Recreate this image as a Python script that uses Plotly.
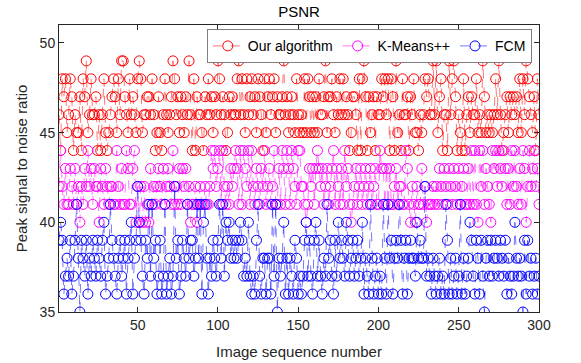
import plotly.graph_objects as go

image_index = list(range(1, 301))

our_algorithm = [
    46, 44, 48, 47, 48, 45, 46, 48, 47, 44, 46, 45, 45, 47, 44, 48, 47, 49, 45, 46,
    48, 46, 46, 47, 44, 46, 44, 46, 48, 45, 44, 45, 46, 47, 48, 47, 45, 48, 46, 49,
    49, 47, 46, 45, 48, 46, 47, 46, 45, 48,
    49, 48, 45, 46, 46, 47, 47, 46, 48, 46, 44, 45, 47, 45, 44, 46, 48, 46, 45, 46,
    47, 49, 48, 46, 47, 45, 47, 46, 45, 47, 46, 49, 46, 44, 48, 44, 47, 46, 46, 45,
    44, 47, 46, 48, 46, 47, 45, 47, 46, 49,
    48, 46, 47, 46, 44, 45, 47, 46, 47, 46, 46, 48, 49, 46, 48, 46, 45, 48, 46, 47,
    48, 46, 47, 45, 48, 47, 46, 44, 48, 45, 47, 48, 46, 47, 48, 45, 47, 46, 46, 47,
    49, 46, 47, 45, 46, 47, 46, 45, 48, 46,
    45, 46, 45, 48, 45, 48, 47, 45, 47, 45, 47, 45, 48, 46, 46, 47, 49, 45, 47, 47,
    48, 46, 45, 47, 46, 48, 46, 48, 46, 47, 46, 44, 45, 47, 47, 46, 44, 48, 44, 48,
    49, 47, 44, 47, 45, 46, 47, 44, 47, 46,
    46, 48, 47, 48, 46, 48, 44, 48, 47, 44, 49, 45, 46, 44, 48, 46, 46, 47, 44, 47,
    46, 48, 45, 45, 44, 46, 45, 46, 48, 47, 48, 46, 46, 49, 46, 49, 45, 47, 48, 44,
    46, 46, 44, 49, 46, 48, 49, 47, 44, 46,
    45, 44, 48, 44, 46, 47, 45, 47, 46, 46, 48, 45, 46, 45, 49, 47, 45, 46, 45, 46,
    45, 46, 48, 46, 49, 46, 44, 45, 46, 47, 45, 47, 46, 47, 46, 47, 45, 48, 45, 48,
    46, 49, 48, 47, 46, 45, 47, 44, 48, 46,
]

kmeans_pp = [
    42, 44, 42, 41, 43, 41, 41, 43, 42, 41, 43, 41, 42, 40, 42, 41, 43, 42, 44, 42,
    43, 41, 43, 42, 42, 40, 43, 42, 41, 43, 42, 41, 42, 42, 41, 41, 44, 42, 41, 43,
    41, 41, 44, 43, 41, 41, 43, 44, 40, 42,
    40, 42, 40, 42, 40, 41, 40, 43, 41, 42, 41, 42, 43, 42, 41, 43, 41, 42, 43, 42,
    41, 44, 41, 42, 41, 43, 41, 43, 42, 43, 41, 42, 40, 41, 41, 42, 40, 41, 42, 41,
    41, 42, 41, 41, 42, 44, 43, 44, 42, 43,
    44, 41, 44, 42, 41, 42, 41, 43, 42, 43, 44, 43, 41, 44, 41, 44, 43, 42, 44, 41,
    44, 42, 41, 43, 42, 41, 43, 42, 44, 41, 42, 43, 41, 42, 44, 41, 41, 43, 41, 44,
    43, 41, 44, 43, 41, 44, 43, 42, 41, 44,
    44, 42, 42, 41, 40, 41, 43, 42, 43, 41, 43, 44, 43, 42, 43, 41, 42, 43, 41, 42,
    43, 44, 41, 43, 42, 41, 43, 41, 44, 42, 43, 41, 40, 41, 42, 43, 41, 42, 43, 41,
    42, 43, 41, 42, 43, 41, 42, 43, 41, 41,
    44, 43, 43, 41, 43, 41, 43, 41, 41, 42, 43, 41, 42, 42, 41, 41, 44, 43, 41, 40,
    42, 41, 40, 42, 41, 41, 43, 41, 42, 40, 41, 41, 41, 42, 41, 42, 41, 43, 42, 41,
    43, 42, 41, 43, 42, 41, 43, 42, 41, 43,
    41, 42, 43, 41, 41, 43, 41, 44, 41, 44, 41, 40, 44, 42, 44, 41, 43, 42, 41, 40,
    44, 43, 44, 42, 44, 43, 42, 44, 43, 41, 43, 41, 44, 42, 44, 42, 41, 43, 41, 44,
    43, 40, 42, 44, 42, 43, 44, 42, 43, 41,
]

fcm = [
    39, 40, 39, 36, 37, 38, 37, 39, 36, 37, 39, 41, 38, 35, 39, 38, 37, 39, 36, 38,
    37, 39, 38, 37, 39, 38, 37, 39, 40, 36, 37, 38, 41, 39, 38, 37, 36, 38, 39, 37,
    38, 39, 36, 38, 39, 40, 36, 38, 39, 42,
    40, 39, 37, 36, 39, 38, 41, 37, 41, 38, 39, 36, 37, 39, 36, 37, 41, 36, 37, 38,
    36, 37, 42, 38, 39, 36, 37, 39, 38, 37, 41, 38, 39, 39, 37, 38, 41, 38, 41, 36,
    40, 41, 38, 36, 38, 37, 39, 38, 37, 39,
    41, 38, 41, 37, 40, 39, 40, 38, 39, 38, 39, 38, 39, 40, 39, 37, 38, 37, 40, 37,
    36, 37, 36, 39, 41, 37, 36, 38, 38, 36, 38, 38, 36, 41, 37, 41, 35, 38, 37, 38,
    40, 36, 38, 36, 38, 37, 36, 39, 38, 36,
    37, 36, 37, 39, 40, 37, 39, 37, 36, 39, 40, 37, 39, 37, 36, 38, 37, 41, 38, 39,
    37, 36, 39, 37, 40, 38, 39, 38, 37, 40, 39, 37, 38, 39, 37, 38, 39, 37, 38, 40,
    36, 38, 37, 36, 41, 38, 36, 37, 38, 36,
    37, 36, 41, 38, 36, 41, 38, 39, 36, 38, 39, 38, 41, 39, 36, 38, 39, 36, 38, 39,
    38, 38, 37, 40, 38, 39, 38, 38, 42, 37, 38, 37, 36, 38, 37, 36, 37, 38, 36, 37,
    36, 41, 39, 36, 38, 36, 37, 38, 36, 37,
    41, 36, 38, 36, 37, 38, 40, 39, 37, 36, 39, 38, 36, 39, 37, 35, 38, 39, 37, 39,
    37, 38, 39, 38, 37, 39, 38, 37, 39, 36, 38, 37, 36, 37, 40, 38, 37, 38, 37, 35,
    39, 36, 39, 37, 38, 36, 37, 38, 36, 37,
]

series_names = ["Our algorithm", "K-Means++", "FCM"]
series_values = [our_algorithm, kmeans_pp, fcm]
series_colors = ["#FF0000", "#FF00FF", "#0000FF"]
series_line_colors = ["rgba(255,0,0,0.6)", "rgba(255,0,255,0.6)", "rgba(0,0,255,0.6)"]

x_ticks = [50, 100, 150, 200, 250, 300]
y_ticks = [35, 40, 45, 50]

FONT = "Liberation Sans, Arial, sans-serif"

fig = go.Figure()
for name, vals, col, lcol in zip(series_names, series_values, series_colors, series_line_colors):
    fig.add_trace(go.Scatter(
        x=image_index, y=vals, name=name, mode="lines+markers",
        line=dict(color=lcol, width=0.9, dash="dash"),
        marker=dict(symbol="circle-open", size=10, color=col, line=dict(width=1, color=col)),
    ))

axis_common = dict(
    showline=True, linecolor="#262626", linewidth=1, mirror="ticks",
    ticks="inside", ticklen=5, tickcolor="#262626", tickwidth=1,
    showgrid=False, zeroline=False, automargin=False,
    tickfont=dict(family=FONT, size=14, color="#262626"),
)

fig.update_layout(
    width=581, height=363,
    margin=dict(l=59, r=42, t=25, b=51),
    paper_bgcolor="white", plot_bgcolor="white",
    title=dict(text="PSNR", x=0.5, xanchor="center", xref="paper", y=0.967, yanchor="middle",
               font=dict(family=FONT, size=15, color="black")),
    xaxis=dict(range=[1, 300], tickvals=x_ticks, **axis_common),
    yaxis=dict(range=[35, 51], tickvals=y_ticks,
               title=dict(text="Peak signal to noise ratio", font=dict(family=FONT, size=15, color="#262626"), standoff=8),
               **axis_common),
    legend=dict(orientation="h", x=0.985, xanchor="right", y=0.985, yanchor="top",
                bgcolor="white", bordercolor="#7f7f7f", borderwidth=1,
                font=dict(family=FONT, size=14, color="black"),
                itemwidth=30, tracegroupgap=0),
    showlegend=True,
    annotations=[dict(text="Image sequence number", xref="paper", yref="paper",
                      x=0.5, y=-0.136, xanchor="center", yanchor="middle", showarrow=False,
                      font=dict(family=FONT, size=15, color="#262626"))],
)

fig.write_html("out.html", config={"displayModeBar": False},
               post_script="document.body.style.margin='0px';document.body.style.overflow='hidden';")
